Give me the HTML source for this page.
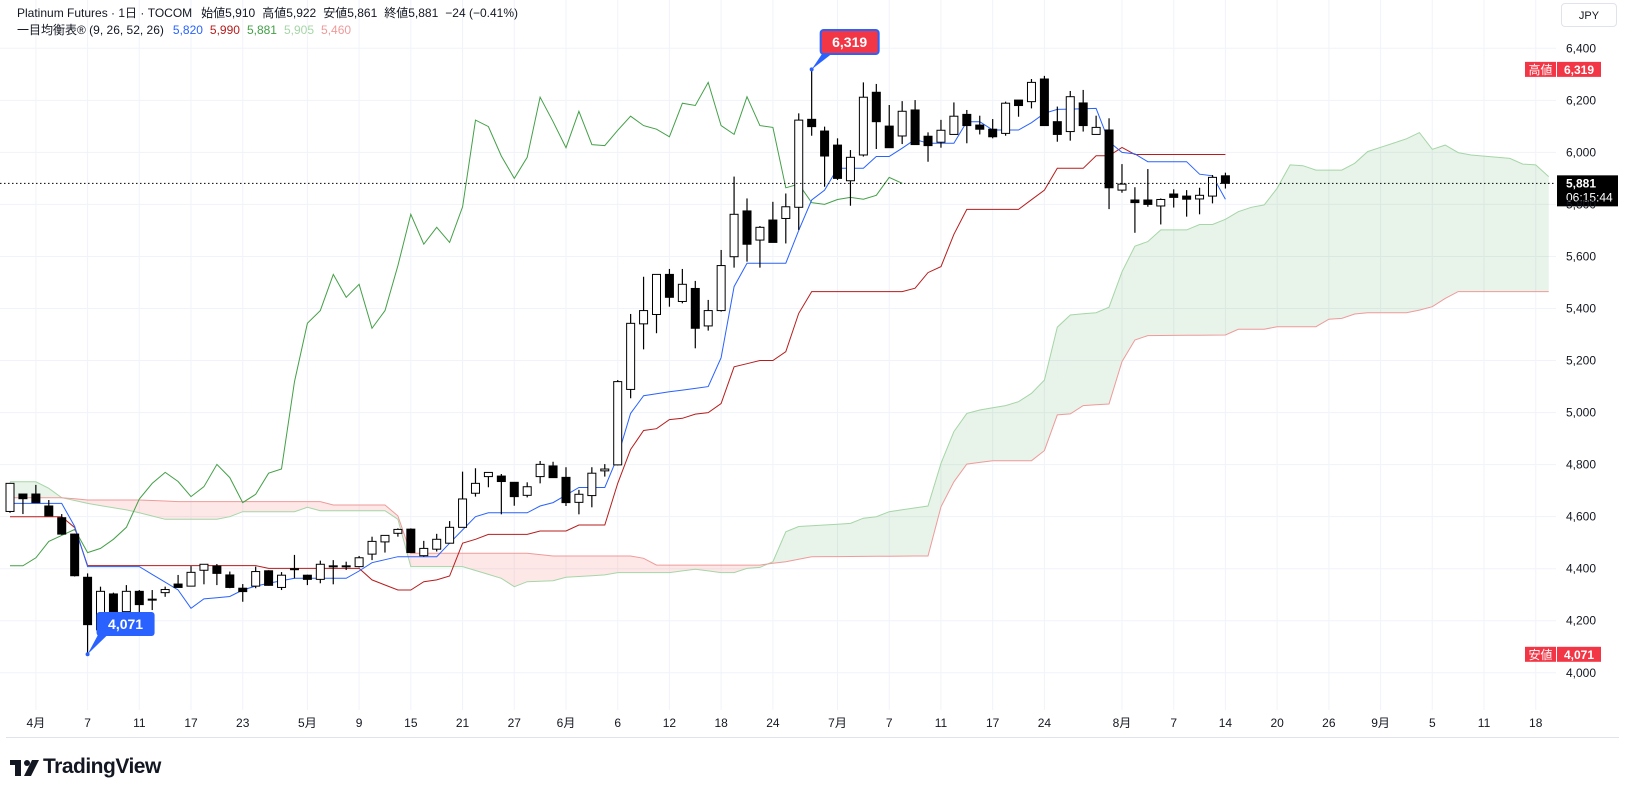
<!DOCTYPE html>
<html><head><meta charset="utf-8"><style>
html,body{margin:0;padding:0;background:#fff;}
body{width:1625px;height:794px;position:relative;overflow:hidden;font-family:"Liberation Sans","Noto Sans CJK JP",sans-serif;color:#131722;}
.t{position:absolute;font-size:12px;white-space:nowrap;line-height:14px;}
.t span{margin-left:7px;}
.t span:first-child{margin-left:0;}
</style></head><body>
<svg id="chart" width="1625" height="794" style="position:absolute;left:0;top:0" xmlns="http://www.w3.org/2000/svg">
<g id="grid"></g><g id="cloud"></g><g id="lines"></g><g id="candles"></g><g id="overlay"></g><g id="axes"></g>
</svg>
<div class="t" style="left:17px;top:6px"><span>Platinum Futures · 1日 · TOCOM</span><span style="margin-left:9px">始値5,910</span><span>高値5,922</span><span>安値5,861</span><span>終値5,881</span><span>−24 (−0.41%)</span></div>
<div class="t" style="left:17px;top:23px"><span>一目均衡表® (9, 26, 52, 26)</span><span style="color:#2962ff;margin-left:9px">5,820</span><span style="color:#b71c1c">5,990</span><span style="color:#43a047">5,881</span><span style="color:#a5d6a7">5,905</span><span style="color:#ef9a9a">5,460</span></div>
<div style="position:absolute;left:1561px;top:3px;width:56px;height:24px;border:1px solid #e0e3eb;border-radius:4px;font-size:11px;line-height:24px;text-align:center;box-sizing:border-box">JPY</div>
<div style="position:absolute;left:10px;top:755px;height:26px;">
<svg width="30" height="20" style="position:absolute;left:0;top:3px"><rect x="0" y="2" width="11" height="5" fill="#131722"/><rect x="5" y="2" width="6" height="16" fill="#131722"/><circle cx="17" cy="5" r="3" fill="#131722"/><polygon points="22,2 29,2 21,18 14,18" fill="#131722"/></svg>
<span style="position:absolute;left:33px;top:0;font-size:21px;font-weight:bold;letter-spacing:-0.5px;color:#131722">TradingView</span></div>
<script>
// ===== data =====
const opens =[4620,4687,4687,4641,4596,4533,4367,4165,4303,4235,4313,4282,4308,4341,4333,4394,4410,4376,4325,4333,4392,4328,4398,4375,4359,4410,4410,4408,4456,4503,4536,4552,4450,4475,4498,4559,4690,4754,4756,4732,4682,4754,4795,4751,4655,4681,4776,4799,5089,5341,5377,5531,5427,5477,5333,5392,5599,5775,5663,5740,5746,5789,6127,6082,6028,5891,5990,6231,6101,6063,6163,6062,6039,6069,6146,6105,6089,6073,6201,6195,6282,6118,6080,6190,6069,6086,5855,5817,5817,5794,5840,5832,5821,5832,5910];
const highs =[4730,4687,4722,4664,4610,4535,4382,4331,4308,4337,4318,4318,4331,4376,4410,4417,4418,4389,4341,4408,4394,4387,4453,4377,4431,4433,4427,4449,4523,4528,4555,4555,4507,4534,4583,4773,4786,4770,4764,4732,4732,4814,4811,4790,4703,4790,4802,5125,5379,5522,5531,5552,5552,5506,5433,5625,5907,5823,5717,5810,5842,6150,6319,6099,6054,6009,6269,6263,6182,6197,6201,6077,6125,6192,6163,6141,6128,6195,6201,6282,6294,6176,6236,6240,6141,6131,5955,5866,5936,5823,5858,5855,5864,5913,5922];
const lows  =[4615,4610,4654,4603,4530,4370,4071,4150,4203,4162,4222,4241,4292,4328,4333,4340,4337,4325,4273,4325,4335,4318,4363,4337,4344,4340,4395,4405,4433,4462,4523,4460,4446,4466,4498,4559,4677,4713,4609,4642,4674,4728,4750,4641,4609,4636,4754,4797,5055,5243,5305,5407,5420,5247,5315,5388,5557,5580,5557,5654,5650,5702,6064,5868,5894,5795,5984,6013,6018,6032,6030,5964,6018,6069,6035,6069,6054,6064,6137,6169,6103,6041,6045,6080,6069,5782,5845,5691,5791,5723,5788,5753,5762,5804,5861];
const closes=[4728,4669,4654,4603,4533,4373,4185,4313,4208,4313,4262,4283,4320,4328,4386,4417,4382,4328,4312,4389,4336,4375,4400,4359,4417,4411,4411,4442,4505,4528,4551,4462,4478,4513,4559,4668,4728,4770,4735,4677,4715,4801,4750,4654,4686,4767,4783,5119,5343,5392,5531,5443,5493,5324,5392,5565,5762,5647,5712,5654,5791,6124,6099,5986,5900,5981,6212,6118,6018,6158,6030,6026,6085,6139,6103,6089,6060,6189,6180,6269,6103,6069,6214,6103,6096,5864,5878,5807,5800,5819,5827,5820,5835,5904,5881];
const tenkanIdx=[0,4,5,6,10,13,14,15,17,18,19,20,22,26,27,28,30,33,34,36,37,40,41,42,44,46,47,48,49,51,53,54,55,56,57,60,61,62,63,64,66,67,68,69,70,71,73,74,75,76,78,79,80,81,84,85,86,87,88,91,92,93,94];
const tenkanVal=[4651,4651,4562,4408,4408,4318,4248,4284,4293,4318,4333,4344,4363,4363,4391,4423,4446,4446,4498,4600,4615,4615,4641,4654,4712,4712,4831,4997,5065,5080,5093,5100,5211,5484,5574,5574,5700,5817,5855,5939,5939,5984,5984,6016,6050,6035,6035,6118,6118,6086,6086,6114,6150,6165,6169,6041,6000,5994,5964,5964,5916,5910,5820];
const kijunIdx=[0,4,5,6,19,20,27,28,30,31,32,33,34,35,36,37,40,41,43,44,46,47,48,49,50,51,52,53,54,55,56,58,59,60,61,62,69,70,71,72,73,74,78,80,81,83,84,85,86,87,94];
const kijunVal=[4600,4600,4558,4412,4412,4401,4401,4357,4318,4318,4350,4357,4372,4498,4513,4532,4532,4545,4545,4568,4568,4728,4858,4931,4938,4973,4978,4994,5000,5035,5176,5200,5200,5234,5381,5465,5465,5478,5538,5561,5685,5781,5781,5855,5939,5939,5987,5987,6019,5992,5992];
const spanAIdx=[0,2,3,4,6,9,10,12,16,17,18,22,23,24,29,30,31,35,38,39,40,42,43,46,47,51,53,55,56,57,58,59,60,61,65,66,67,68,71,72,73,74,75,77,78,79,80,81,82,84,85,86,87,88,89,91,92,93,94,95,96,97,98,99,100,101,103,104,105,108,109,110,111,112,113,116,117,118,119];
const spanAVal=[4734,4734,4709,4673,4651,4626,4615,4590,4590,4600,4619,4619,4636,4623,4623,4590,4408,4408,4363,4331,4350,4354,4367,4376,4385,4385,4398,4385,4385,4401,4405,4427,4542,4562,4574,4594,4600,4619,4641,4805,4927,4997,5010,5027,5042,5074,5125,5328,5375,5384,5405,5541,5640,5657,5702,5702,5723,5723,5743,5772,5789,5798,5862,5952,5949,5932,5932,5958,6003,6052,6076,6012,6028,5999,5990,5977,5955,5952,5907];
const spanBIdx=[0,4,6,10,13,24,25,29,30,31,40,42,48,49,50,58,59,60,62,71,72,73,74,76,79,80,81,82,83,85,86,87,88,94,95,97,98,101,102,103,104,105,108,109,110,111,112,119];
const spanBVal=[4673,4673,4664,4664,4658,4658,4645,4645,4603,4459,4459,4449,4449,4440,4414,4414,4421,4427,4446,4449,4638,4734,4802,4815,4815,4854,4991,4995,5027,5033,5196,5279,5296,5298,5320,5320,5330,5330,5359,5362,5379,5384,5384,5394,5407,5439,5465,5465];
const priceTicks=[4000,4200,4400,4600,4800,5000,5200,5400,5600,5800,6000,6200,6400];
const timeTickIdx=[2,6,10,14,18,23,27,31,35,39,43,47,51,55,59,64,68,72,76,80,86,90,94,98,102,106,110,114,118];
const timeTickLabels=["4月","7","11","17","23","5月","9","15","21","27","6月","6","12","18","24","7月","7","11","17","24","8月","7","14","20","26","9月","5","11","18"];
const displacement=25;

// ===== scales =====
const X0=10, DX=12.93, PLOT_R=1556, PLOT_B=710;
function xs(i){return X0+i*DX;}
function ys(p){return 48.3+(6400-p)*0.2602;}
const NS="http://www.w3.org/2000/svg";
function mk(tag,attrs,parent){const e=document.createElementNS(NS,tag);for(const k in attrs)e.setAttribute(k,attrs[k]);parent.appendChild(e);return e;}
function fmt(v){return v.toLocaleString("en-US");}
const G={grid:document.getElementById("grid"),cloud:document.getElementById("cloud"),lines:document.getElementById("lines"),candles:document.getElementById("candles"),overlay:document.getElementById("overlay"),axes:document.getElementById("axes")};

priceTicks.forEach(p=>{
  const l=mk("line",{x1:0,x2:PLOT_R,y1:ys(p),y2:ys(p),stroke:"#f0f3fa","stroke-width":1},G.grid);
  
  
  const t=mk("text",{x:1566,y:ys(p)+4,"font-size":12,fill:"#131722","font-family":"Liberation Sans, sans-serif"},G.axes);
  t.textContent=fmt(p);
  
  
});
timeTickIdx.forEach((ix,k)=>{
  const l=mk("line",{x1:xs(ix),x2:xs(ix),y1:0,y2:PLOT_B,stroke:"#f0f3fa","stroke-width":1},G.grid);
  
  
  const t=mk("text",{x:xs(ix),y:727,"font-size":12,fill:"#131722","text-anchor":"middle","font-family":"Liberation Sans, Noto Sans CJK JP, sans-serif"},G.axes);
  t.textContent=timeTickLabels[k];
  
  
});
const bl=mk("line",{x1:6,x2:1619,y1:737.5,y2:737.5,stroke:"#e0e3eb","stroke-width":1},G.axes);



function series(idx,val){const out=[];for(let i=idx[0];i<=idx[idx.length-1];i++){let k=0;while(k<idx.length-1&&idx[k+1]<i)k++;const a=idx[k],b=idx[Math.min(k+1,idx.length-1)];const t=b===a?0:(i-a)/(b-a);out[i]=val[k]+(val[Math.min(k+1,idx.length-1)]-val[k])*t;}return out;}
const A=series(spanAIdx,spanAVal), B=series(spanBIdx,spanBVal);

for(let i=0;i<A.length-1;i++){
  const a0=A[i],a1=A[i+1],b0=B[i],b1=B[i+1];
  const d0=a0-b0,d1=a1-b1;
  const pieces=[];
  if(d0*d1<0){const t=d0/(d0-d1);const xm=i+t,ym=a0+(a1-a0)*t;pieces.push([[i,a0],[xm,ym],[i,b0],d0]);pieces.push([[xm,ym],[i+1,a1],[i+1,b1],d1]);}
  else pieces.push([[i,a0],[i+1,a1],[i+1,b1],[i,b0],d0+d1]);
  pieces.forEach(pc=>{const sign=pc[pc.length-1];const pts=pc.slice(0,-1).map(q=>xs(q[0]).toFixed(1)+","+ys(q[1]).toFixed(1)).join(" ");
    const pg=mk("polygon",{points:pts,fill:sign>=0?"rgba(67,160,71,0.12)":"rgba(244,67,54,0.12)"},G.cloud);
    
    });
}
function poly(arr,start,color,name){const pts=[];arr.forEach((v,i)=>{if(v!==undefined)pts.push(xs(i+start).toFixed(1)+","+ys(v).toFixed(1));});
  const p=mk("polyline",{points:pts.join(" "),fill:"none",stroke:color,"stroke-width":1},G.lines);
  
  }
poly(A,0,"#a5d6a7","senkou-span-a");
poly(B,0,"#ef9a9a","senkou-span-b");
poly(closes.slice(displacement),0,"#43a047","chikou-span");
poly(series(kijunIdx,kijunVal),0,"#b71c1c","kijun-sen");
poly(series(tenkanIdx,tenkanVal),0,"#2962ff","tenkan-sen");

closes.forEach((c,i)=>{
  const o=opens[i],h=highs[i],l=lows[i],x=xs(i);
  const w=mk("line",{x1:x,x2:x,y1:ys(h),y2:ys(l),stroke:"#000","stroke-width":1.2},G.candles);
  
  
  const top=ys(Math.max(o,c)),bot=ys(Math.min(o,c));
  const r=mk("rect",{x:x-4,y:top,width:8,height:Math.max(bot-top,1),fill:c>=o?"#fff":"#000",stroke:"#000","stroke-width":1},G.candles);
  
  
});

const last=closes[closes.length-1];
const pl=mk("line",{x1:0,x2:PLOT_R,y1:ys(last),y2:ys(last),stroke:"#000","stroke-width":1,"stroke-dasharray":"1.5,2.5"},G.overlay);


const lb=mk("rect",{x:1557,y:ys(last)-8,width:61,height:31,fill:"#000"},G.overlay);


const lt=mk("text",{x:1566,y:ys(last)+4,"font-size":12,"font-weight":"bold",fill:"#fff","font-family":"Liberation Sans, sans-serif"},G.overlay);lt.textContent=fmt(last);


const ct=mk("text",{x:1566,y:ys(last)+18,"font-size":12,fill:"#fff","font-family":"Liberation Sans, sans-serif"},G.overlay);ct.textContent="06:15:44";



const hiV=Math.max(...highs),loV=Math.min(...lows);
const hiI=highs.indexOf(hiV),loI=lows.indexOf(loV);
[[hiV,"高値","high-axis-label"],[loV,"安値","low-axis-label"]].forEach(([v,txt,name])=>{
  const g=mk("g",{},G.overlay);
  
  
  mk("rect",{x:1525,y:ys(v)-7.5,width:31,height:15,fill:"#f23645"},g);
  mk("rect",{x:1557,y:ys(v)-7.5,width:44,height:15,fill:"#f23645"},g);
  const a=mk("text",{x:1540.5,y:ys(v)+4.5,"font-size":12,fill:"#fff","text-anchor":"middle","font-family":"Liberation Sans, Noto Sans CJK JP, sans-serif"},g);a.textContent=txt;
  const b=mk("text",{x:1579,y:ys(v)+4.5,"font-size":12,"font-weight":"bold",fill:"#fff","text-anchor":"middle","font-family":"Liberation Sans, sans-serif"},g);b.textContent=fmt(v);
});

(function(){
  const px=xs(hiI),py=ys(hiV);const bx=px+9,by=30;
  const g=mk("g",{},G.overlay);
  
  
  mk("polygon",{points:`${px},${py} ${bx+4},${by+20} ${bx+16},${by+20}`,fill:"#2962ff"},g);
  mk("rect",{x:bx,y:by,width:58,height:24,rx:3,fill:"#f23645",stroke:"#2962ff","stroke-width":2},g);
  mk("circle",{cx:px,cy:py,r:2,fill:"#2962ff"},g);
  const t=mk("text",{x:bx+29,y:by+17,"font-size":14,"font-weight":"bold",fill:"#fff","text-anchor":"middle","font-family":"Liberation Sans, sans-serif"},g);t.textContent=fmt(hiV);
})();
(function(){
  const px=xs(loI),py=ys(loV);const bx=px+9,by=612;
  const g=mk("g",{},G.overlay);
  
  
  mk("polygon",{points:`${px},${py} ${bx+4},${by+18} ${bx+16},${by+18}`,fill:"#2962ff"},g);
  mk("rect",{x:bx,y:by,width:58,height:24,rx:3,fill:"#2962ff"},g);
  mk("circle",{cx:px,cy:py,r:2,fill:"#2962ff"},g);
  const t=mk("text",{x:bx+29,y:by+17,"font-size":14,"font-weight":"bold",fill:"#fff","text-anchor":"middle","font-family":"Liberation Sans, sans-serif"},g);t.textContent=fmt(loV);
})();
</script>
</body></html>
